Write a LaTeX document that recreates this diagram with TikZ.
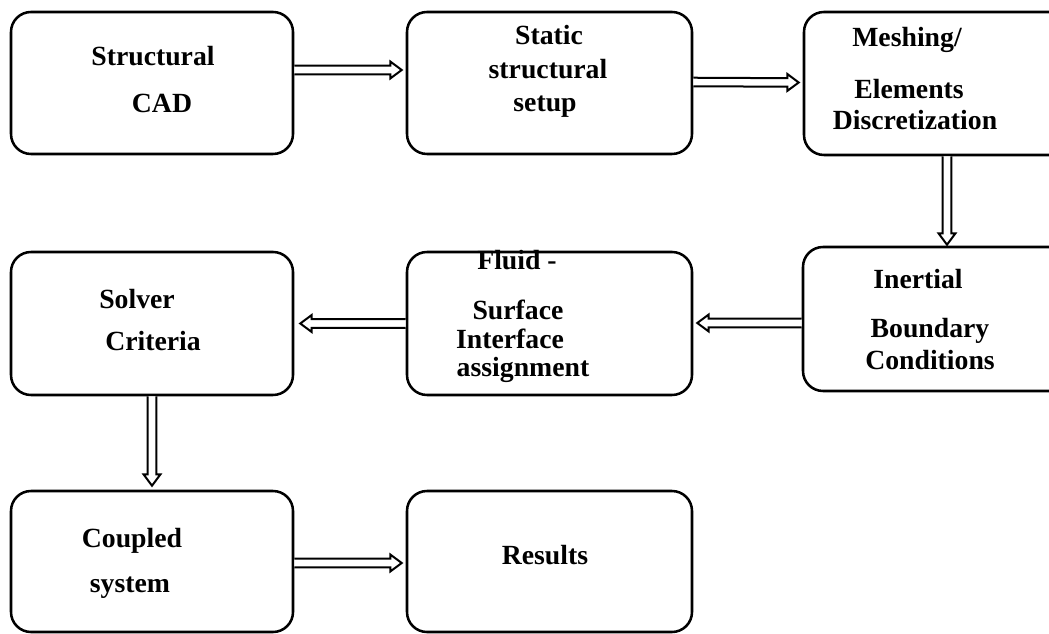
\documentclass[tikz,border=0pt]{standalone}
\usepackage{fontspec}
\setmainfont{Liberation Serif}
\usetikzlibrary{calc}

\tikzset{
  box/.style={draw, line width=1.9pt, rounded corners=15pt, inner sep=0pt,
              minimum width=214pt, minimum height=106.5pt},
  lbl/.style={font=\bfseries\fontsize{20.8}{25}\selectfont, anchor=base, inner sep=0pt},
  flow/.style={draw, line width=1.5pt, line join=miter, fill=white},
}

% hollow double-line arrow from #1 to the tip #2
\newcommand\flowarrow[2]{%
  \path[flow] let \p1=(#1), \p2=(#2),
      \n1={atan2(\y2-\y1,\x2-\x1)}, \n2={veclen(\x2-\x1,\y2-\y1)} in
      [shift={(\p1)}, rotate=\n1]
      (0pt,-3.2pt) -- (\n2-8.5pt,-3.2pt) -- (\n2-8.5pt,-6.3pt) -- (\n2,0pt)
      -- (\n2-8.5pt,6.3pt) -- (\n2-8.5pt,3.2pt) -- (0pt,3.2pt);}

\begin{document}
\begin{tikzpicture}[x=0.75pt, y=-0.75pt]
  \useasboundingbox (0,0) rectangle (1049,634);
  \fill[white] (0,0) rectangle (1049,634);
  \clip (0,0) rectangle (1049,634);

  % process boxes
  \node[box, minimum width=211.5pt] (b1) at (152,83) {};
  \node[box, minimum width=213.75pt] (b2) at (549.5,83) {};
  \node[box, minimum width=214.5pt, minimum height=107.25pt] (b3) at (947,83.5) {};
  \node[box, minimum width=211.5pt, minimum height=107.25pt] (b4) at (152,323.5) {};
  \node[box, minimum width=213.75pt, minimum height=107.25pt] (b5) at (549.5,323.5) {};
  \node[box, minimum width=214.5pt, minimum height=108pt] (b6) at (946,319) {};
  \node[box, minimum width=211.5pt, minimum height=105.75pt] (b7) at (152,561.5) {};
  \node[box, minimum width=213.75pt, minimum height=105.75pt] (b8) at (549.5,561.5) {};

  % connectors
  \flowarrow{$(b1.east)+(0,-13)$}{$(b2.west)+(-4,-13)$}
  \flowarrow{$(b2.east)+(0,-1)$}{$(b3.west)+(-4,-1)$}
  \flowarrow{b3.south}{$(b3.south |- b6.north)+(0,-1)$}
  \flowarrow{$(b6.west)+(0,4)$}{$(b5.east |- b6.west)+(4,4)$}
  \flowarrow{b5.west}{$(b4.east)+(6,0)$}
  \flowarrow{b4.south}{$(b7.north)+(0,-4)$}
  \flowarrow{$(b7.east)+(0,1.5)$}{$(b8.west)+(-4,1.5)$}

  % labels
  \node[lbl] (b1a) at (153,66) {Structural};
  \node[lbl] (b1b) at (162,113) {CAD};

  \node[lbl] (b2a) at (549,45) {Static};
  \node[lbl] (b2b) at (548,79) {structural};
  \node[lbl] (b2c) at (545,112) {setup};

  \node[lbl] (b3a) at (907,47) {Meshing/};
  \node[lbl] (b3b) at (909,99) {Elements};
  \node[lbl] (b3c) at (915,130) {Discretization};

  \node[lbl] (b4a) at (137,309) {Solver};
  \node[lbl] (b4b) at (153,351) {Criteria};

  \node[lbl] (b5a) at (517,270) {Fluid -};
  \node[lbl] (b5b) at (518,320) {Surface};
  \node[lbl] (b5c) at (510,349) {Interface};
  \node[lbl] (b5d) at (523,377) {assignment};

  \node[lbl] (b6a) at (918,289) {Inertial};
  \node[lbl] (b6b) at (930,338) {Boundary};
  \node[lbl] (b6c) at (930,370) {Conditions};

  \node[lbl] (b7a) at (132,547) {Coupled};
  \node[lbl] (b7b) at (130,592) {system};

  \node[lbl] (b8a) at (545,564) {Results};
\end{tikzpicture}
\end{document}
